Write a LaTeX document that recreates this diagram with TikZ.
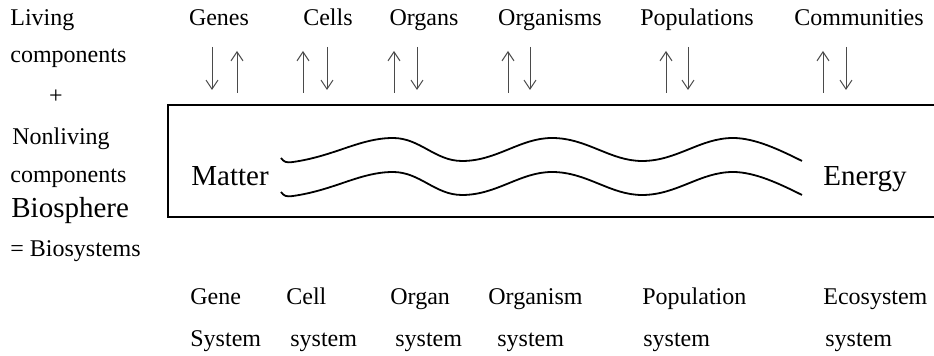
\documentclass[tikz,border=0pt]{standalone}
\usepackage{fontspec}
\setmainfont{Liberation Serif}
\usepackage{tikz}
\usetikzlibrary{arrows.meta,positioning}
\definecolor{bsink}  {HTML}{000000}
\definecolor{bsarrow}{HTML}{4A4A4A}
\tikzset{
  bslabel/.style={inner sep=0pt, anchor=base west, font=\fontsize{12}{14}\selectfont, text=bsink},
  bstop/.style={inner sep=0pt, anchor=base, font=\fontsize{12}{14}\selectfont, text=bsink},
  bsbig/.style={inner sep=0pt, anchor=base west, font=\fontsize{14.5}{17}\selectfont, text=bsink},
  bsflow/.style={-{Straight Barb[length=4.5pt,width=6pt]}, draw=bsarrow, line width=0.5pt},
  bsframe/.style={draw=bsink, line width=1pt},
  bswave/.style={draw=bsink, line width=0.9pt},
}

\begin{document}
\begin{tikzpicture}[x=0.5pt,y=-0.5pt]
  \useasboundingbox (0,0) rectangle (934,356);

  % left column
  \node[bslabel] (living)  at (10,26)  {Living};
  \node[bslabel] (lcomp)   at (10,63)  {components};
  \node[bstop]   (plus)    at (56,104) {+};
  \node[bslabel] (nonliv)  at (12,145) {Nonliving};
  \node[bslabel] (ncomp)   at (10,183) {components};
  \node[bsbig]   (biosph)  at (11,218) {Biosphere};
  \node[bslabel] (biosys)  at (10,257) {= Biosystems};

  % top level names
  \node[bstop] (genes)  at (219,26) {Genes};
  \node[bstop] (cells)  at (328,26) {Cells};
  \node[bstop] (organs) at (424,26) {Organs};
  \node[bstop] (orgsms) at (550,26) {Organisms};
  \node[bstop] (popls)  at (697,26) {Populations};
  \node[bstop] (comms)  at (859,26) {Communities};

  % exchange arrows
  \foreach \dn/\up [count=\i] in {212/237, 327/303, 417/394, 530/508, 688/666, 846/823}{
    \coordinate (dn\i a) at (\dn,47);
    \coordinate (dn\i b) at (\dn,90);
    \coordinate (up\i a) at (\up,93);
    \coordinate (up\i b) at (\up,51);
    \draw[bsflow] (dn\i a) -- (dn\i b);
    \draw[bsflow] (up\i a) -- (up\i b);
  }

  % the box, open on the right
  \coordinate (boxtr) at (940,105);
  \coordinate (boxtl) at (168,105);
  \coordinate (boxbl) at (168,217);
  \coordinate (boxbr) at (940,217);
  \draw[bsframe] (boxtr) -- (boxtl) -- (boxbl) -- (boxbr);

  \node[bsbig] (matter) at (191,186) {Matter};
  \node[bsbig] (energy) at (823,186) {Energy};

  % the two waves
  \foreach \dy in {0,34}{
    \draw[bswave] (281,158+\dy)
      .. controls (284,162+\dy) and (286,163+\dy) .. (293,162+\dy)
      .. controls (335,156+\dy) and (360,138+\dy) .. (393,138+\dy)
      .. controls (420,138+\dy) and (435,161+\dy) .. (462,161+\dy)
      .. controls (497,161+\dy) and (520,138+\dy) .. (552,138+\dy)
      .. controls (587,138+\dy) and (610,161+\dy) .. (642,161+\dy)
      .. controls (677,161+\dy) and (700,138+\dy) .. (733,138+\dy)
      .. controls (755,138+\dy) and (780,150+\dy) .. (802,161+\dy);
  }

  % system levels
  \node[bslabel] (geneA) at (190,305) {Gene};
  \node[bslabel] (cellA) at (286,305) {Cell};
  \node[bslabel] (orgnA) at (390,305) {Organ};
  \node[bslabel] (orgmA) at (488,305) {Organism};
  \node[bslabel] (popA)  at (642,305) {Population};
  \node[bslabel] (ecoA)  at (823,305) {Ecosystem};
  \node[bslabel] (geneB) at (190,347) {System};
  \node[bslabel] (cellB) at (290,347) {system};
  \node[bslabel] (orgnB) at (395,347) {system};
  \node[bslabel] (orgmB) at (497,347) {system};
  \node[bslabel] (popB)  at (643,347) {system};
  \node[bslabel] (ecoB)  at (825,347) {system};
\end{tikzpicture}
\end{document}
